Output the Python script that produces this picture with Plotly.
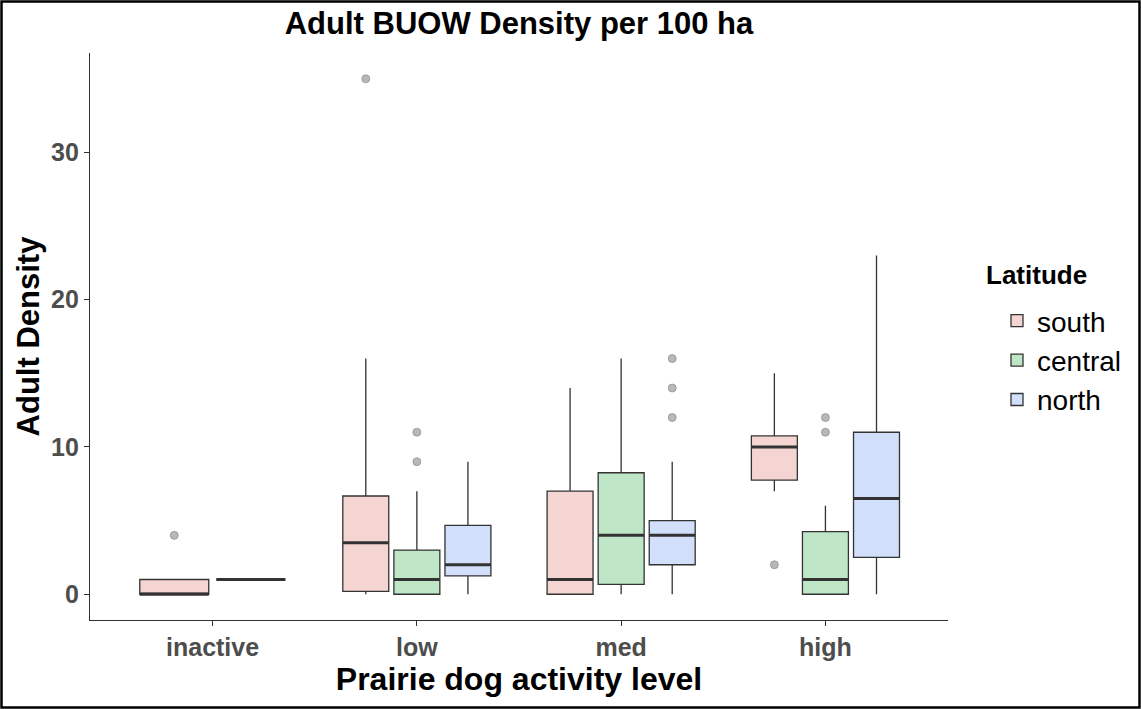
import plotly.graph_objects as go

categories = ["inactive", "low", "med", "high"]
groups = ["south", "central", "north"]
colors = {"south": "#F5D5D2", "central": "#BFE7C7", "north": "#D1DFFA"}

# per group: stats for each category (None = group absent)
q1 = {"south": [0, 0.2, 0, 7.75], "central": [1, 0, 0.67, 0], "north": [None, 1.25, 2, 2.5]}
median = {"south": [0, 3.5, 1, 10], "central": [1, 1, 4, 1], "north": [None, 2, 4, 6.5]}
q3 = {"south": [1, 6.67, 7, 10.75], "central": [1, 3, 8.25, 4.25], "north": [None, 4.67, 5, 11]}
lower = {"south": [0, 0, 0, 7], "central": [1, 0, 0, 0], "north": [None, 0, 0, 0]}
upper = {"south": [1, 16, 14, 15], "central": [1, 7, 16, 6], "north": [None, 9, 9, 23]}
outliers = {
    "south": [[4], [35], [], [2]],
    "central": [[], [11, 9], [], [12, 11]],
    "north": [[], [], [16, 14, 12], []],
}

fig = go.Figure()
dodge = 0.75
med_x, med_y, out_x, out_y = [], [], [], []
shown = set()
for ci, cat in enumerate(categories):
    present = [g for g in groups if q1[g][ci] is not None]
    n = len(present)
    slot = dodge / n
    bw = slot * 0.9
    for k, g in enumerate(present):
        xc = (ci + 1) - dodge / 2 + slot * (k + 0.5)
        fig.add_trace(go.Box(
            x=[xc], q1=[q1[g][ci]], median=[median[g][ci]], q3=[q3[g][ci]],
            lowerfence=[lower[g][ci]], upperfence=[upper[g][ci]],
            width=bw, whiskerwidth=0, fillcolor=colors[g],
            line=dict(color="#333333", width=1.3), boxpoints=False,
            name=g, legendgroup=g, showlegend=(g not in shown),
            hoverinfo="skip",
        ))
        shown.add(g)
        med_x += [xc - bw / 2, xc + bw / 2, None]
        med_y += [median[g][ci], median[g][ci], None]
        for v in outliers[g][ci]:
            out_x.append(xc)
            out_y.append(v)

fig.add_trace(go.Scatter(x=med_x, y=med_y, mode="lines",
                         line=dict(color="#333333", width=3),
                         showlegend=False, hoverinfo="skip"))
fig.add_trace(go.Scatter(x=out_x, y=out_y, mode="markers",
                         marker=dict(size=8, color="rgba(160,160,160,0.75)",
                                     line=dict(color="rgba(130,130,130,0.6)", width=1)),
                         showlegend=False, hoverinfo="skip"))

order = {g: i for i, g in enumerate(groups)}
for tr in fig.data:
    if tr.type == "box":
        tr.legendrank = order[tr.name] + 1

fig.update_layout(
    width=1141, height=709,
    margin=dict(l=90, r=193, t=53, b=89),
    paper_bgcolor="white", plot_bgcolor="white",
    font=dict(family="Liberation Sans, Arial, sans-serif", color="black"),
    title=dict(text="Adult BUOW Density per 100 ha", x=0.5, xref="paper",
               y=0.968, yref="container", xanchor="center", yanchor="middle",
               font=dict(size=31, weight="bold", color="black")),
    xaxis=dict(range=[0.4, 4.6], tickmode="array", tickvals=[1, 2, 3, 4],
               ticktext=categories, showgrid=False, zeroline=False,
               showline=True, linecolor="#333333", linewidth=1.3,
               ticks="outside", ticklen=5, tickcolor="#333333", tickwidth=1.3,
               tickfont=dict(size=25, weight="bold", color="#4D4D4D"),
               title=dict(text="Prairie dog activity level", standoff=6,
                          font=dict(size=32, weight="bold", color="black"))),
    yaxis=dict(range=[-1.75, 36.75], tickvals=[0, 10, 20, 30],
               showgrid=False, zeroline=False,
               showline=True, linecolor="#333333", linewidth=1.3,
               ticks="outside", ticklen=5, tickcolor="#333333", tickwidth=1.3,
               tickfont=dict(size=25, weight="bold", color="#4D4D4D"),
               title=dict(text="Adult Density", standoff=2,
                          font=dict(size=31, weight="bold", color="black"))),
    legend=dict(x=(997 - 90) / 858, y=(620 - 296) / 567, xanchor="left", yanchor="top",
                font=dict(size=28), tracegroupgap=0, itemwidth=30,
                bgcolor="rgba(0,0,0,0)"),
    annotations=[dict(text="Latitude", xref="paper", yref="paper",
                      x=(984 - 90) / 858, y=(620 - 275) / 567,
                      xanchor="left", yanchor="middle", showarrow=False,
                      font=dict(size=26, weight="bold", color="black"))],
    shapes=[dict(type="rect", xref="paper", yref="paper",
                 x0=(1.5 - 90) / 858, x1=(1139.5 - 90) / 858,
                 y0=(620 - 707.5) / 567, y1=(620 - 1.5) / 567,
                 line=dict(color="black", width=2.5), fillcolor="rgba(0,0,0,0)",
                 layer="above")],
)

fig.write_html("out.html")
